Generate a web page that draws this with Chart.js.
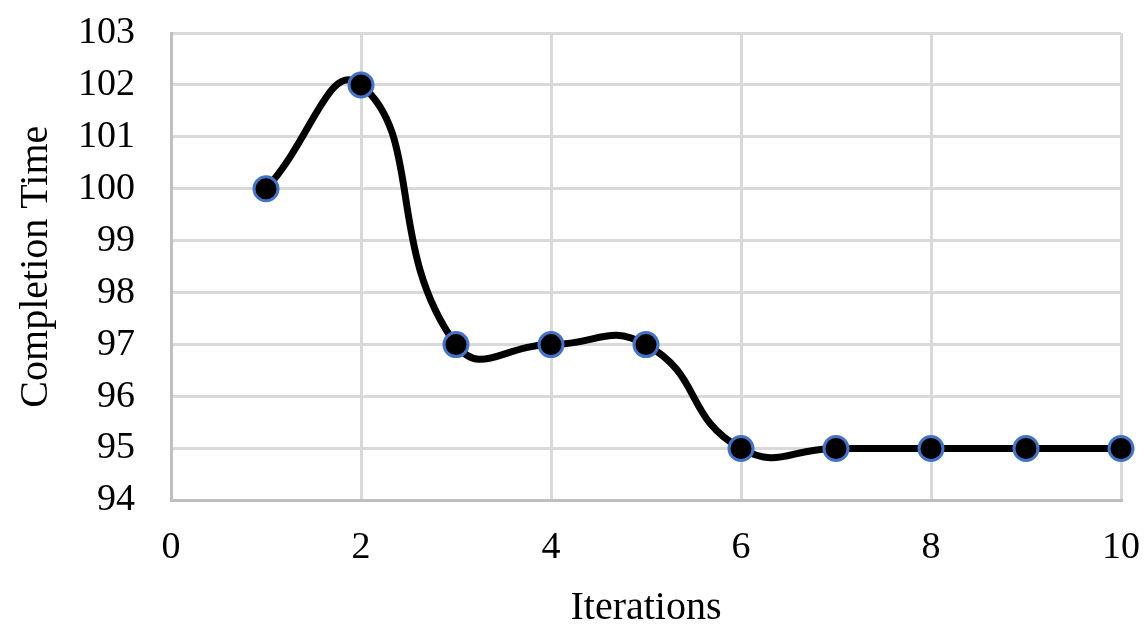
<!DOCTYPE html>
<html lang="en">
<head>
    <meta charset="UTF-8">
    <title>Completion Time vs Iterations</title>
    <script src="https://cdn.jsdelivr.net/npm/chart.js@4.4.0/dist/chart.umd.min.js"></script>
    <style>
        html, body { margin: 0; padding: 0; background: #fff; }
        .wrap { width: 1145px; height: 634px; }
    </style>
</head>
<body>
    <div class="wrap"><canvas id="myChart"></canvas></div>
    <script>
        // data
        const iterations = [1, 2, 3, 4, 5, 6, 7, 8, 9, 10];
        const completionTime = [100, 102, 97, 97, 97, 95, 95, 95, 95, 95];
        const xTicks = [0, 2, 4, 6, 8, 10];
        const yTicks = [94, 95, 96, 97, 98, 99, 100, 101, 102, 103];

        const serif = "'Liberation Serif', 'Times New Roman', serif";

        const points = iterations.map((x, i) => ({ x: x, y: completionTime[i] }));

        const ctx = document.getElementById('myChart').getContext('2d');
        new Chart(ctx, {
            type: 'line',
            data: {
                datasets: [{
                    data: points,
                    borderColor: '#000000',
                    borderWidth: 7,
                    tension: 0.5,
                    pointRadius: 12,
                    pointBorderWidth: 3,
                    pointBackgroundColor: '#000000',
                    pointBorderColor: '#4472c4',
                    fill: false,
                    clip: false
                }]
            },
            options: {
                responsive: true,
                maintainAspectRatio: false,
                animation: false,
                layout: { autoPadding: false, padding: { top: 0, right: 0, bottom: 3, left: 16 } },
                plugins: {
                    legend: { display: false },
                    tooltip: { enabled: false }
                },
                scales: {
                    x: {
                        type: 'linear',
                        min: xTicks[0],
                        max: xTicks[xTicks.length - 1],
                        afterBuildTicks: (axis) => { axis.ticks = xTicks.map(v => ({ value: v })); },
                        // tick padding would otherwise widen the right margin too
                        afterFit: (axis) => { axis.paddingRight = 24; },
                        grid: { color: '#d9d9d9', lineWidth: 3, drawTicks: false },
                        border: { color: '#bfbfbf', width: 3 },
                        ticks: { color: '#000', autoSkip: false, maxRotation: 0, font: { family: serif, size: 38 }, padding: 25 },
                        title: {
                            display: true,
                            text: 'Iterations',
                            color: '#000',
                            font: { family: serif, size: 40, lineHeight: 1.0 },
                            padding: { top: -8, bottom: 3 }
                        }
                    },
                    y: {
                        min: yTicks[0],
                        max: yTicks[yTicks.length - 1],
                        afterBuildTicks: (axis) => { axis.ticks = yTicks.map(v => ({ value: v })); },
                        afterFit: (axis) => { axis.paddingTop = 33; axis.paddingBottom = 22; },
                        grid: { color: '#d9d9d9', lineWidth: 3, drawTicks: false },
                        border: { color: '#bfbfbf', width: 3 },
                        ticks: { color: '#000', autoSkip: false, font: { family: serif, size: 38 }, padding: 36 },
                        title: {
                            display: true,
                            text: 'Completion Time',
                            color: '#000',
                            font: { family: serif, size: 40, lineHeight: 1.0 },
                            padding: { top: 0, bottom: -14 }
                        }
                    }
                }
            }
        });
    </script>
</body>
</html>
